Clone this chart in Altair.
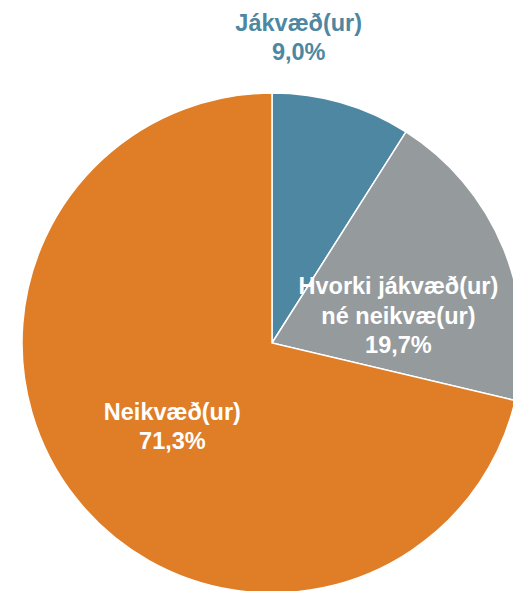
import altair as alt
import pandas as pd

categories = ["Jákvæð(ur)", "Hvorki  jákvæð(ur)|né neikvæ(ur)", "Neikvæð(ur)"]
values = [9.0, 19.7, 71.3]
pct_labels = ["9,0%", "19,7%", "71,3%"]
colors = ["#4E87A1", "#959B9D", "#E07D27"]

df = pd.DataFrame({
    "idx": list(range(len(categories))),
    "category": categories,
    "value": values,
    "pct": pct_labels,
})

CX, CY = 264, 335
R = 250

color_scale = alt.Scale(domain=categories, range=colors)

base = alt.Chart(df).transform_window(
    cum="sum(value)", sort=[alt.SortField("idx")]
).transform_calculate(
    mid="datum.cum - datum.value / 2",
    lines="split(datum.category + '|' + datum.pct, '|')",
)

arcs = base.mark_arc(radius=R, stroke="white", strokeWidth=1.5).encode(
    theta=alt.Theta("value:Q", stack=True),
    order=alt.Order("idx:O"),
    color=alt.Color("category:N", scale=color_scale, legend=None),
    x=alt.value(CX),
    y=alt.value(CY),
)

def label(i, r, dx, dy, color):
    return base.transform_filter(f"datum.idx == {i}").mark_text(
        radius=r, dx=dx, dy=dy, font="Liberation Sans", fontSize=23.5,
        fontWeight="bold", color=color, align="center", baseline="middle",
        lineHeight=29.5,
    ).encode(
        theta=alt.Theta("mid:Q", scale=alt.Scale(domain=[0, 100])),
        text="lines:N",
        x=alt.value(CX),
        y=alt.value(CY),
    )

chart = alt.layer(
    arcs,
    label(0, 300, -57, -31, "#4E87A1"),
    label(1, 130, 6, -7, "white"),
    label(2, 127, 0, -9, "white"),
).resolve_scale(theta="independent").properties(
    width=505, height=583, autosize=alt.AutoSizeParams(type="none"), padding=0
).configure_view(stroke=None)

chart.save("out.html", embed_options={"renderer": "svg", "actions": False})
